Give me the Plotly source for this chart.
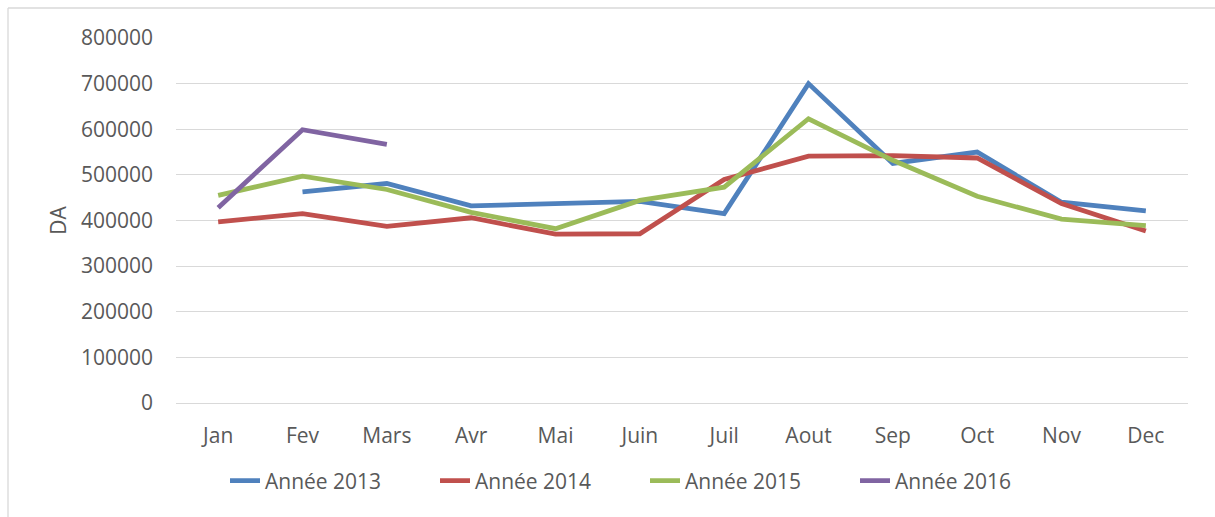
import plotly.graph_objects as go

months = ["Jan", "Fev", "Mars", "Avr", "Mai", "Juin", "Juil", "Aout", "Sep", "Oct", "Nov", "Dec"]
y2013 = [None, 462500, 481000, 432000, 438000, 442000, 415000, 700000, 525000, 550000, 440000, 421000]
y2014 = [397000, 415000, 387000, 406000, 370000, 371000, 490000, 541000, 542000, 537000, 437000, 377000]
y2015 = [455000, 497000, 468000, 418000, 382000, 444000, 473000, 623000, 532000, 453000, 403000, 389000]
y2016 = [428000, 599000, 567000]

series = [
    ("Année 2013", y2013, "#4F81BD"),
    ("Année 2014", y2014, "#C0504D"),
    ("Année 2015", y2015, "#9BBB59"),
    ("Année 2016", y2016, "#8064A2"),
]

fig = go.Figure()
for name, vals, col in series:
    fig.add_trace(go.Scatter(
        x=months[:len(vals)], y=vals, name=name, mode="lines",
        line=dict(color=col, width=4.8), connectgaps=False,
    ))

font = dict(family="Open Sans, sans-serif", size=21, color="#595959")
W, H = 1215, 517
L, R, T, B = 176, 27, 38, 114
pw, ph = W - L - R, H - T - B

def px(x):
    return (x - L) / pw

def py(y):
    return (H - B - y) / ph

fig.update_layout(
    width=W, height=H,
    margin=dict(l=L, r=R, t=T, b=B, autoexpand=False),
    paper_bgcolor="white", plot_bgcolor="white",
    font=font,
    showlegend=True,
    legend=dict(orientation="h", x=px(645), xanchor="center", y=py(481), yanchor="middle",
                font=font, entrywidth=165, entrywidthmode="pixels", bgcolor="rgba(0,0,0,0)"),
    xaxis=dict(range=[-0.5, 11.5], showgrid=False, showline=False, zeroline=False, ticks="",
               ticklabelstandoff=18, tickfont=font, fixedrange=True, automargin=False),
    yaxis=dict(range=[0, 800000], dtick=100000, tickformat="d", showgrid=True,
               gridcolor="#d9d9d9", gridwidth=1.3, zeroline=True, zerolinecolor="#d9d9d9",
               zerolinewidth=1.3, showline=False, ticks="", ticklabelstandoff=22, automargin=False,
               tickfont=font, title=dict(text="DA", font=font, standoff=8)),
    shapes=[
        dict(type="line", xref="paper", yref="paper", x0=px(8), x1=px(8), y0=py(530), y1=py(8),
             line=dict(color="#d9d9d9", width=1.3)),
        dict(type="line", xref="paper", yref="paper", x0=px(8), x1=px(1215), y0=py(8), y1=py(8),
             line=dict(color="#d9d9d9", width=1.3)),
    ],
)

fig.write_html("out.html", config={"displayModeBar": False},
               post_script="document.body.style.margin='0';")
